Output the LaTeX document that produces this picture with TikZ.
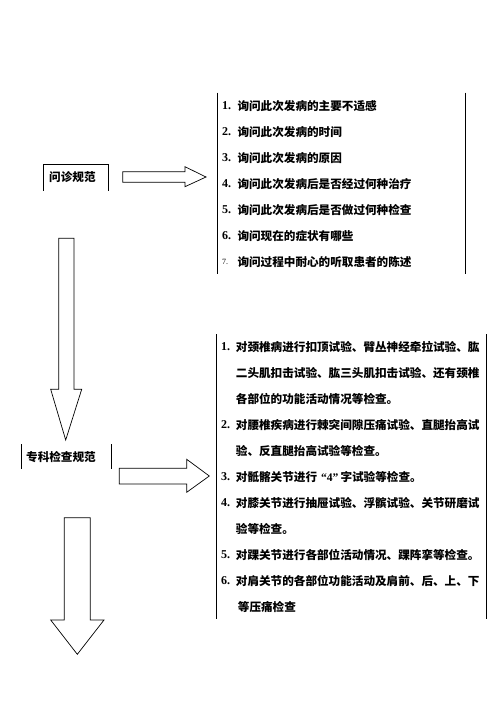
\documentclass[tikz,border=0pt]{standalone}
\usepackage{fontspec}
\newfontfamily\cjk{Noto Sans CJK SC}
\newfontfamily\numfont{Liberation Serif}
\begin{document}
\begin{tikzpicture}[x=1pt,y=-1pt,
  item/.style={anchor=west,inner sep=0pt,font=\cjk\bfseries\fontsize{11.6}{12}\selectfont},
  num/.style={anchor=west,inner sep=0pt,font=\numfont\bfseries\fontsize{12}{12}\selectfont},
  frame/.style={line width=0.8pt},
  blockarrow/.style={draw,line width=0.7pt,fill=white}]
\useasboundingbox (0,0) rectangle (496,702);
% first step
\draw[frame] (43.3,190.7) -- (43.3,164.3) -- (108.3,164.3) -- (108.3,190.7);
\node[item] (wz) at (49,177.3) {问诊规范};
\draw[blockarrow] (122.7,171.7) -- (185,171.7) -- (185,166.7) -- (206,177)
  -- (185,186.7) -- (185,182.3) -- (122.7,182.3) -- cycle;
\draw[frame] (217.3,92.7) -- (217.3,274);
\draw[frame] (465,92.7) -- (465,274);
\foreach \i/\t in {1/询问此次发病的主要不适感,2/询问此次发病的时间,3/询问此次发病的原因,
  4/询问此次发病后是否经过何种治疗,5/询问此次发病后是否做过何种检查,6/询问现在的症状有哪些}{
  \node[num] (wn\i) at (222,{105.7+26.05*(\i-1)}) {\i.};
  \node[item] (wt\i) at (237.3,{105.7+26.05*(\i-1)}) {\t};
}
\node[anchor=west,inner sep=0pt,font=\numfont\fontsize{8}{8}\selectfont] (wn7) at (222,262) {7.};
\node[item] (wt7) at (237.3,262) {询问过程中耐心的听取患者的陈述};
\draw[blockarrow] (58.7,238.3) -- (74,238.3) -- (74,389.3) -- (81.7,389.3)
  -- (65.7,440) -- (50.7,389.3) -- (58.7,389.3) -- cycle;
% second step
\draw[frame] (21.3,444.3) -- (21.3,469.3);
\draw[frame] (111.3,444.3) -- (111.3,469.3);
\node[item] (zk) at (26,456.7) {专科检查规范};
\draw[blockarrow] (119.3,468.3) -- (186.7,468.3) -- (186.7,459.3) -- (209.3,476)
  -- (186.7,492.3) -- (186.7,484) -- (119.3,484) -- cycle;
\draw[frame] (216.7,334) -- (216.7,619.3);
\draw[frame] (486.3,334) -- (486.3,619.3);
\foreach \i/\n/\t in {1/1./对颈椎病进行扣顶试验、臂丛神经牵拉试验、肱,
  2//二头肌扣击试验、肱三头肌扣击试验、还有颈椎,
  3//各部位的功能活动情况等检查。,
  4/2./对腰椎疾病进行棘突间隙压痛试验、直腿抬高试,
  5//验、反直腿抬高试验等检查。,
  6/3./{对骶髂关节进行\hspace{4pt}{\numfont “4”}\hspace{2pt}字试验等检查。},
  7/4./对膝关节进行抽屉试验、浮髌试验、关节研磨试,
  8//验等检查。,
  9/5./对踝关节进行各部位活动情况、踝阵挛等检查。,
  10/6./对肩关节的各部位功能活动及肩前、后、上、下}{
  \node[num] (zn\i) at (221,{346.7+26*(\i-1)}) {\n};
  \node[item] (zt\i) at (235.7,{346.7+26*(\i-1)}) {\t};
}
\node[item] (zt11) at (237.7,606.7) {等压痛检查};
\draw[blockarrow] (64.3,517.7) -- (90.3,517.7) -- (90.3,620) -- (104,620)
  -- (77.3,654.3) -- (50.7,620) -- (64.3,620) -- cycle;
\end{tikzpicture}
\end{document}
